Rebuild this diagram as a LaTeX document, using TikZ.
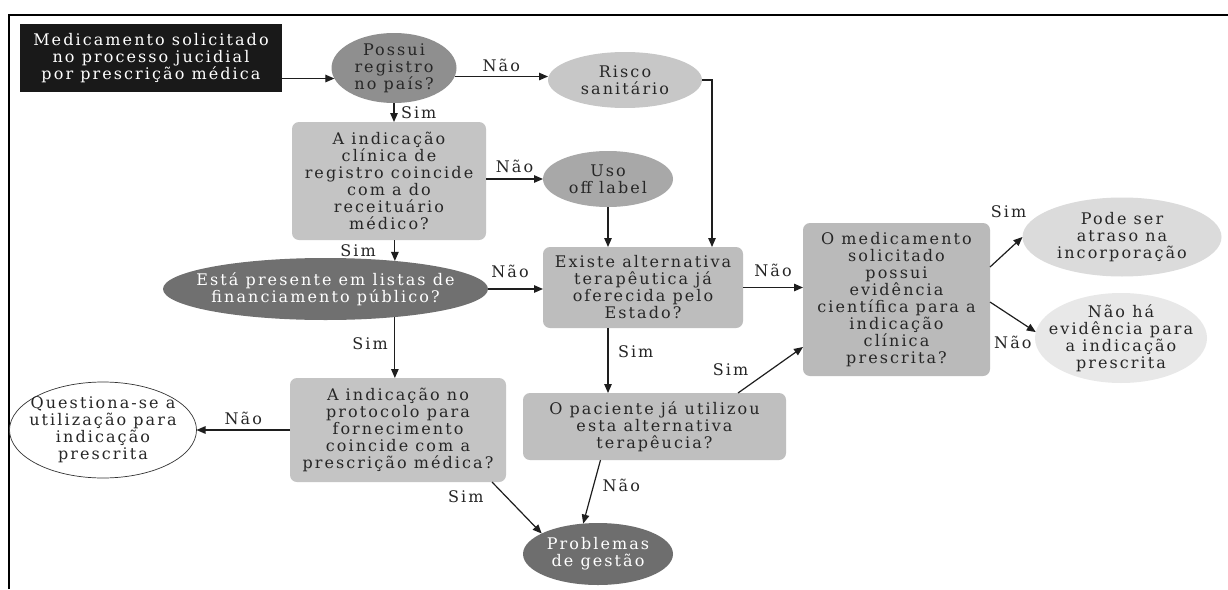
\documentclass[tikz,border=0pt]{standalone}
\usepackage{fontspec}
\newfontfamily\diafont{DejaVu Serif}[LetterSpace=13]
\usetikzlibrary{shapes.geometric,arrows.meta,calc}
\definecolor{txtgray}{HTML}{262626}
\definecolor{linegray}{HTML}{1e1e1e}
\newcommand{\fs}{\diafont\fontsize{16}{17}\selectfont}
\begin{document}
\begin{tikzpicture}[x=1pt,y=-1pt,
  every node/.style={inner sep=0pt, outer sep=0pt},
  txt/.style={align=center, font=\fs, text=txtgray},
  wtxt/.style={align=center, font=\fs, text=white},
  rbox/.style={rectangle, rounded corners=7pt, align=center, font=\fs, text=txtgray},
  ell/.style={ellipse},
  conn/.style={draw=linegray, line width=1.2pt, -{Triangle[length=9pt,width=7.5pt]}},
  lab/.style={font=\fs, text=txtgray, inner sep=1pt}]
\useasboundingbox (0,0) rectangle (1228,589);
\fill[white] (0,0) rectangle (1228,589);
% frame
\draw[line width=2pt, black] (9,589) -- (9,14.5) -- (1228,14.5);

% nodes
\node[rectangle, fill=black!90, minimum width=262pt, minimum height=68pt, align=center, font=\fs, text=white] (start) at (151,58)
  {Medicamento solicitado\\no processo jucidial\\por prescrição médica};

\node[ell, fill=black!44, minimum width=125pt, minimum height=70pt] (possui) at (394,68) {};
\node[txt] (possui-t) at (possui) {Possui\\registro\\no país?};

\node[ell, fill=black!22, minimum width=154pt, minimum height=56pt] (risco) at (625,80) {};
\node[txt] (risco-t) at (risco) {Risco\\sanitário};

\node[rbox, fill=black!23, minimum width=194pt, minimum height=118pt] (clinica) at (389,181)
  {A indicação\\clínica de\\registro coincide\\com a do\\receituário\\médico?};

\node[ell, fill=black!34, minimum width=130pt, minimum height=56pt] (uso) at (608,179) {};
\node[txt] (uso-t) at (uso) {Uso\\off label};

\node[rbox, fill=black!26, minimum width=200pt, minimum height=81pt] (existe) at (643,287.5)
  {Existe alternativa\\terapêutica já\\oferecida pelo\\Estado?};

\node[ell, fill=black!56, minimum width=325pt, minimum height=62pt] (esta) at (325.5,289) {};
\node[wtxt] (esta-t) at (esta) {Está presente em listas de\\financiamento público?};

\node[rbox, fill=black!27, minimum width=187pt, minimum height=153pt] (omed) at (896.5,299.5)
  {O medicamento\\solicitado\\possui\\evidência\\científica para a\\indicação\\clínica\\prescrita?};

\node[ell, fill=black!14, minimum width=199pt, minimum height=79pt] (pode) at (1122,237) {};
\node[txt] (pode-t) at (pode) {Pode ser\\atraso na\\incorporação};

\node[ell, fill=black!9, minimum width=172pt, minimum height=90pt] (naoha) at (1121,338) {};
\node[txt] (naoha-t) at (naoha) {Não há\\evidência para\\a indicação\\prescrita};

\node[rbox, fill=black!25, minimum width=263pt, minimum height=67pt] (paciente) at (654.5,426.5)
  {O paciente já utilizou\\esta alternativa\\terapêucia?};

\node[ell, fill=black!57, minimum width=150pt, minimum height=62pt] (problemas) at (598,554) {};
\node[wtxt] (problemas-t) at (problemas) {Problemas\\de gestão};

\node[rbox, fill=black!23, minimum width=216pt, minimum height=104pt] (protocolo) at (398,430)
  {A indicação no\\protocolo para\\fornecimento\\coincide com a\\prescrição médica?};

\node[ell, fill=white, draw=black!80, line width=0.7pt, minimum width=187pt, minimum height=96pt] (questiona) at (103,430) {};
\node[txt] (questiona-t) at (questiona) {Questiona-se a\\utilização para\\indicação\\prescrita};

% connectors
\draw[conn] (start.east |- possui.190) -- (possui.190);
\draw[conn] (possui.352) -- (possui.352 -| risco.west)
  node[lab, midway, above=4pt] {Não};
\draw[conn] (risco.east) -| ($(existe.north east)+(-31,0)$);
\draw[conn] (possui.south) -- (possui.south |- clinica.north)
  node[lab, midway, right=6pt] {Sim};
\draw[conn] (clinica.east |- uso.west) -- (uso.west)
  node[lab, midway, above=5pt] {Não};
\draw[conn] (uso.south) -- (uso.south |- existe.north);
\draw[conn] (esta.22 |- clinica.south) -- (esta.22)
  node[lab, midway, left=18pt] {Sim};
\draw[conn] (esta.east) -- (esta.east -| existe.west)
  node[lab, pos=0.4, above=10pt] {Não};
\draw[conn] (existe.east) -- (existe.east -| omed.west)
  node[lab, midway, above=10pt] {Não};
\draw[conn] (uso.south |- existe.south) -- (uso.south |- paciente.north)
  node[lab, pos=0.36, right=9pt] {Sim};
\draw[conn] ($(omed.north east)+(0,44)$) -- (pode.west)
  node[lab, pos=1, xshift=-14pt, yshift=25pt] {Sim};
\draw[conn] ($(omed.north east)+(0,79)$) -- (naoha.176)
  node[lab, midway, yshift=-25pt] {Não};
\draw[conn] ($(paciente.north east)+(-48,0)$) -- ($(omed.south west)+(0,-29)$)
  node[lab, midway, xshift=-40pt] {Sim};
\draw[conn] ($(paciente.south)+(-54,0)$) -- (problemas.116)
  node[lab, pos=0.4, right=8pt] {Não};
\draw[conn] ($(protocolo.south east)+(-14,0)$) -- (problemas.160)
  node[lab, midway, xshift=-51pt, yshift=11pt] {Sim};
\draw[conn] (esta.338) -- (esta.338 |- protocolo.north)
  node[lab, pos=0.44, left=6pt] {Sim};
\draw[conn] (protocolo.west) -- (protocolo.west -| questiona.east)
  node[lab, midway, above=4pt] {Não};
\end{tikzpicture}
\end{document}
